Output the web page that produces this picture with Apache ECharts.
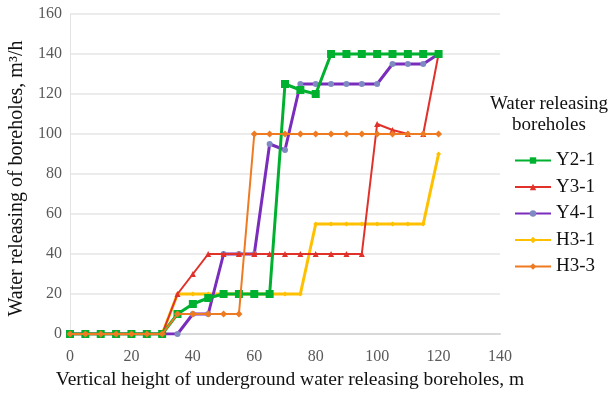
<!DOCTYPE html>
<html>
<head>
<meta charset="utf-8">
<script src="https://cdn.jsdelivr.net/npm/echarts@6/dist/echarts.min.js"></script>
<style>html,body{margin:0;padding:0;background:#fff}#c{width:614px;height:393px}</style>
</head>
<body>
<div id="c"></div>
<script>
var heights = [0,5,10,15,20,25,30,35,40,45,50,55,60,65,70,75,80,85,90,95,100,105,110,115,120];
var seriesNames = ['Y2-1','Y3-1','Y4-1','H3-1','H3-3'];
var y2_1 = [0,0,0,0,0,0,0,10,15,18,20,20,20,20,125,122,120,140,140,140,140,140,140,140,140];
var y3_1 = [0,0,0,0,0,0,0,20,30,40,40,40,40,40,40,40,40,40,40,40,105,102,100,100,140];
var y4_1 = [0,0,0,0,0,0,0,0,10,10,40,40,40,95,92,125,125,125,125,125,125,135,135,135,140];
var h3_1 = [0,0,0,0,0,0,0,20,20,20,20,20,20,20,20,20,55,55,55,55,55,55,55,55,90];
var h3_3 = [0,0,0,0,0,0,0,10,10,10,10,10,100,100,100,100,100,100,100,100,100,100,100,100,100];
var yTicks = [0,20,40,60,80,100,120,140,160];
var xTicks = [0,20,40,60,80,100,120,140];

function pairs(arr){ return heights.map(function(h,i){ return [h, arr[i]]; }); }

var font = '"Liberation Serif", "Times New Roman", serif';
var styles = [
  {data:y2_1, color:'#00B02F', mcolor:'#00B02F', width:3, symbol:'rect', size:8},
  {data:y3_1, color:'#E0312A', mcolor:'#E0312A', width:2, symbol:'triangle', size:6},
  {data:y4_1, color:'#7A2DBC', mcolor:'#7F8AC2', width:3, symbol:'circle', size:6},
  {data:h3_1, color:'#FFC000', mcolor:'#FFC000', width:3, symbol:'diamond', size:5},
  {data:h3_3, color:'#EE7A22', mcolor:'#EE7A22', width:2, symbol:'diamond', size:7}
];
var series = styles.map(function(s, i){
  return {
    name: seriesNames[i], type:'line', data: pairs(s.data),
    symbol: s.symbol, symbolSize: s.size, showAllSymbol: true,
    lineStyle: {color: s.color, width: s.width},
    itemStyle: {color: s.mcolor, borderWidth: 0},
    emphasis: {disabled: true},
    z: 10 - i,
    animation: false
  };
});
series[4].z = 11;

var chart = echarts.init(document.getElementById('c'), null, {renderer:'canvas'});
chart.setOption({
  animation: false,
  backgroundColor: '#fff',
  grid: {left: 70, right: 114, top: 14, bottom: 59, containLabel: false, outerBoundsMode: 'none'},
  xAxis: {
    type:'value', min: xTicks[0], max: xTicks[xTicks.length-1], interval: 20,
    name: 'Vertical height of underground water releasing boreholes, m',
    nameLocation: 'middle', nameGap: 34,
    nameTextStyle: {fontFamily: font, fontSize: 19.5, color:'#111', padding: [0,0,0,10]},
    axisLine: {show:true, lineStyle:{color:'#d9d9d9', width:2}},
    axisTick: {show:false},
    axisLabel: {fontFamily: font, fontSize: 16, color:'#595959', margin: 15},
    splitLine: {show:false}
  },
  yAxis: {
    type:'value', min: yTicks[0], max: yTicks[yTicks.length-1], interval: 20,
    name: 'Water releasing of boreholes, m\u00B3/h',
    nameLocation: 'middle', nameGap: 34,
    nameTextStyle: {fontFamily: font, fontSize: 20, color:'#111', padding: [0,9,0,0]},
    axisLine: {show:true, lineStyle:{color:'#e3e3e3', width:1}},
    axisTick: {show:false},
    axisLabel: {fontFamily: font, fontSize: 16, color:'#595959', margin: 8},
    splitLine: {show:true, lineStyle:{color:'#e6e6e6', width:1.5}}
  },
  legend: {
    orient: 'vertical', left: 514, top: 151, padding: 0,
    itemWidth: 36, itemHeight: 8, itemGap: 7.5,
    textStyle: {fontFamily: font, fontSize: 19, color:'#111', padding: [0,0,0,0]},
    data: seriesNames
  },
  graphic: [{
    type:'text', x: 549, y: 94,
    style: {text: 'Water releasing\nboreholes', font: '19px ' + font, fill:'#111', align:'center', verticalAlign:'top', lineHeight: 21}
  }],
  series: series
});
</script>
</body>
</html>
